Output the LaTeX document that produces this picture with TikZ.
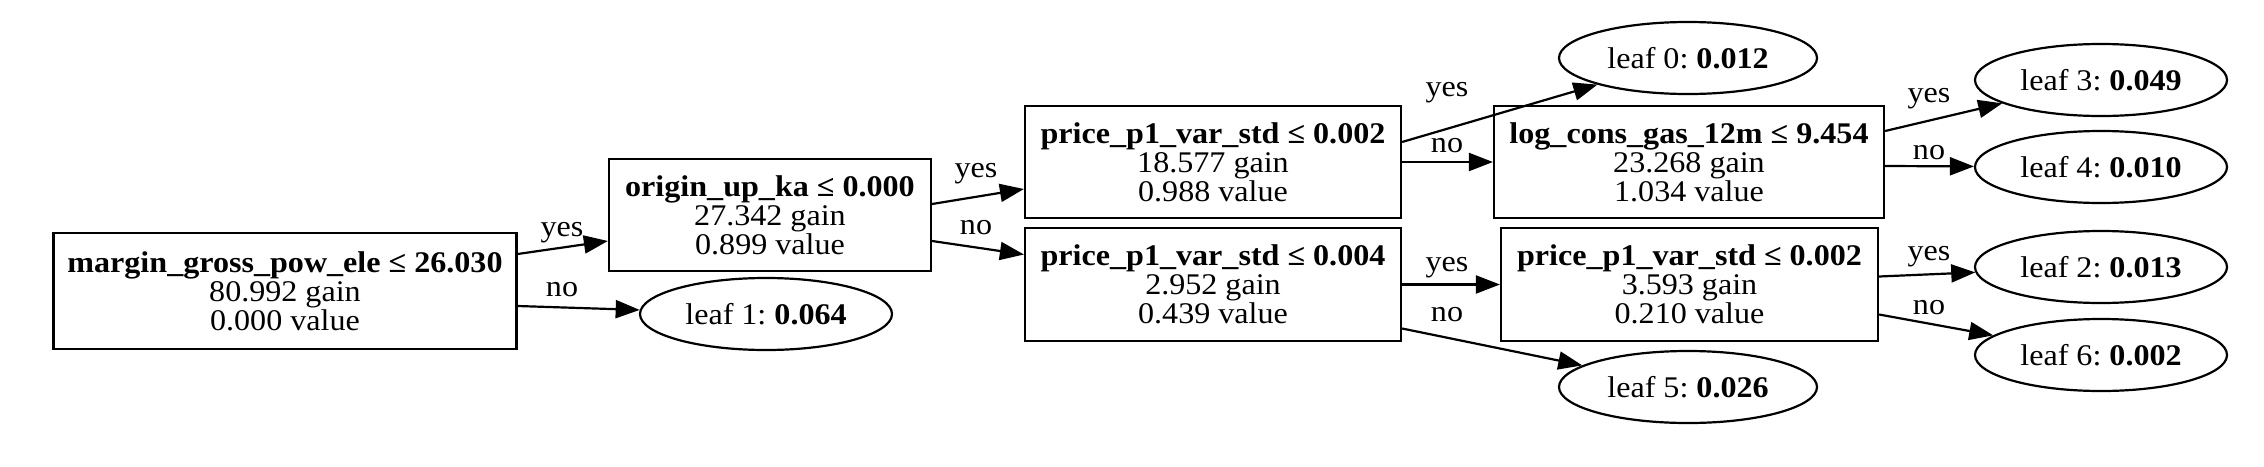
\documentclass[tikz,border=0pt]{standalone}
\usepackage{fontspec}
\setmainfont{Liberation Serif}[FakeStretch=1.07]
\frenchspacing
\usetikzlibrary{arrows.meta,calc,shapes.geometric}
\begin{document}
\begin{tikzpicture}[x=1pt,y=-1pt,
  txt/.style={font=\fontsize{30}{29}\selectfont},
  box/.style={txt, draw, line width=2.2pt, rectangle, inner sep=0pt, align=center},
  leaf/.style={txt, draw, line width=2.2pt, ellipse, inner sep=0pt},
  lbl/.style={txt, inner sep=0pt},
  edge/.style={line width=2.2pt, -{Triangle[length=24pt,width=18pt]}}]
\useasboundingbox (0,0) rectangle (2264,466);
% split nodes
\node[box, minimum width=463pt, minimum height=116pt] (root) at (285,291)
  {\textbf{margin\_gross\_pow\_ele ≤ 26.030}\\80.992 gain\\0.000 value};
\node[box, minimum width=322pt, minimum height=112pt] (origin) at (770,215)
  {\textbf{origin\_up\_ka ≤ 0.000}\\27.342 gain\\0.899 value};
\node[box, minimum width=376pt, minimum height=112pt] (p1a) at (1213,162)
  {\textbf{price\_p1\_var\_std ≤ 0.002}\\18.577 gain\\0.988 value};
\node[box, minimum width=376pt, minimum height=113pt] (p1b) at (1213,284.5)
  {\textbf{price\_p1\_var\_std ≤ 0.004}\\2.952 gain\\0.439 value};
\node[box, minimum width=390pt, minimum height=112pt] (log) at (1689,162)
  {\textbf{log\_cons\_gas\_12m ≤ 9.454}\\23.268 gain\\1.034 value};
\node[box, minimum width=377pt, minimum height=113pt] (p2) at (1689.5,284.5)
  {\textbf{price\_p1\_var\_std ≤ 0.002}\\3.593 gain\\0.210 value};
% leaves
\node[leaf, minimum width=252pt, minimum height=72pt] (leaf1) at (766,314) {leaf 1: \textbf{0.064}};
\node[leaf, minimum width=258pt, minimum height=72pt] (leaf0) at (1688,58) {leaf 0: \textbf{0.012}};
\node[leaf, minimum width=258pt, minimum height=72pt] (leaf5) at (1688,387) {leaf 5: \textbf{0.026}};
\node[leaf, minimum width=252pt, minimum height=72pt] (leaf3) at (2101,80) {leaf 3: \textbf{0.049}};
\node[leaf, minimum width=252pt, minimum height=72pt] (leaf4) at (2101,167) {leaf 4: \textbf{0.010}};
\node[leaf, minimum width=252pt, minimum height=72pt] (leaf2) at (2101,267) {leaf 2: \textbf{0.013}};
\node[leaf, minimum width=252pt, minimum height=72pt] (leaf6) at (2101,355) {leaf 6: \textbf{0.002}};
% edges
\draw[edge] ($(root.east)+(0,-37)$) -- ($(origin.west)+(0,26)$);
\draw[edge] ($(root.east)+(0,15)$) -- (leaf1);
\draw[edge] ($(origin.east)+(0,-11)$) -- ($(p1a.west)+(0,27)$);
\draw[edge] ($(origin.east)+(0,26)$) -- ($(p1b.west)+(0,-30)$);
\draw[edge] ($(p1a.east)+(0,-20)$) -- (leaf0);
\draw[edge] (p1a.east) -- (log.west);
\draw[edge] (p1b.east) -- (p2.west);
\draw[edge] ($(p1b.east)+(0,44)$) -- (leaf5);
\draw[edge] ($(log.east)+(0,-31)$) -- (leaf3);
\draw[edge] ($(log.east)+(0,4)$) -- (leaf4);
\draw[edge] ($(p2.east)+(0,-8)$) -- (leaf2);
\draw[edge] ($(p2.east)+(0,30)$) -- (leaf6);
% edge labels
\node[lbl] (l1) at (562,233) {yes};
\node[lbl] (l2) at (562,290) {no};
\node[lbl] (l3) at (976,174) {yes};
\node[lbl] (l4) at (976,228) {no};
\node[lbl] (l5) at (1447,93) {yes};
\node[lbl] (l6) at (1447,146) {no};
\node[lbl] (l7) at (1447,268) {yes};
\node[lbl] (l8) at (1447,315) {no};
\node[lbl] (l9) at (1929,99) {yes};
\node[lbl] (l10) at (1929,153) {no};
\node[lbl] (l11) at (1929,257) {yes};
\node[lbl] (l12) at (1929,308) {no};
\end{tikzpicture}
\end{document}
